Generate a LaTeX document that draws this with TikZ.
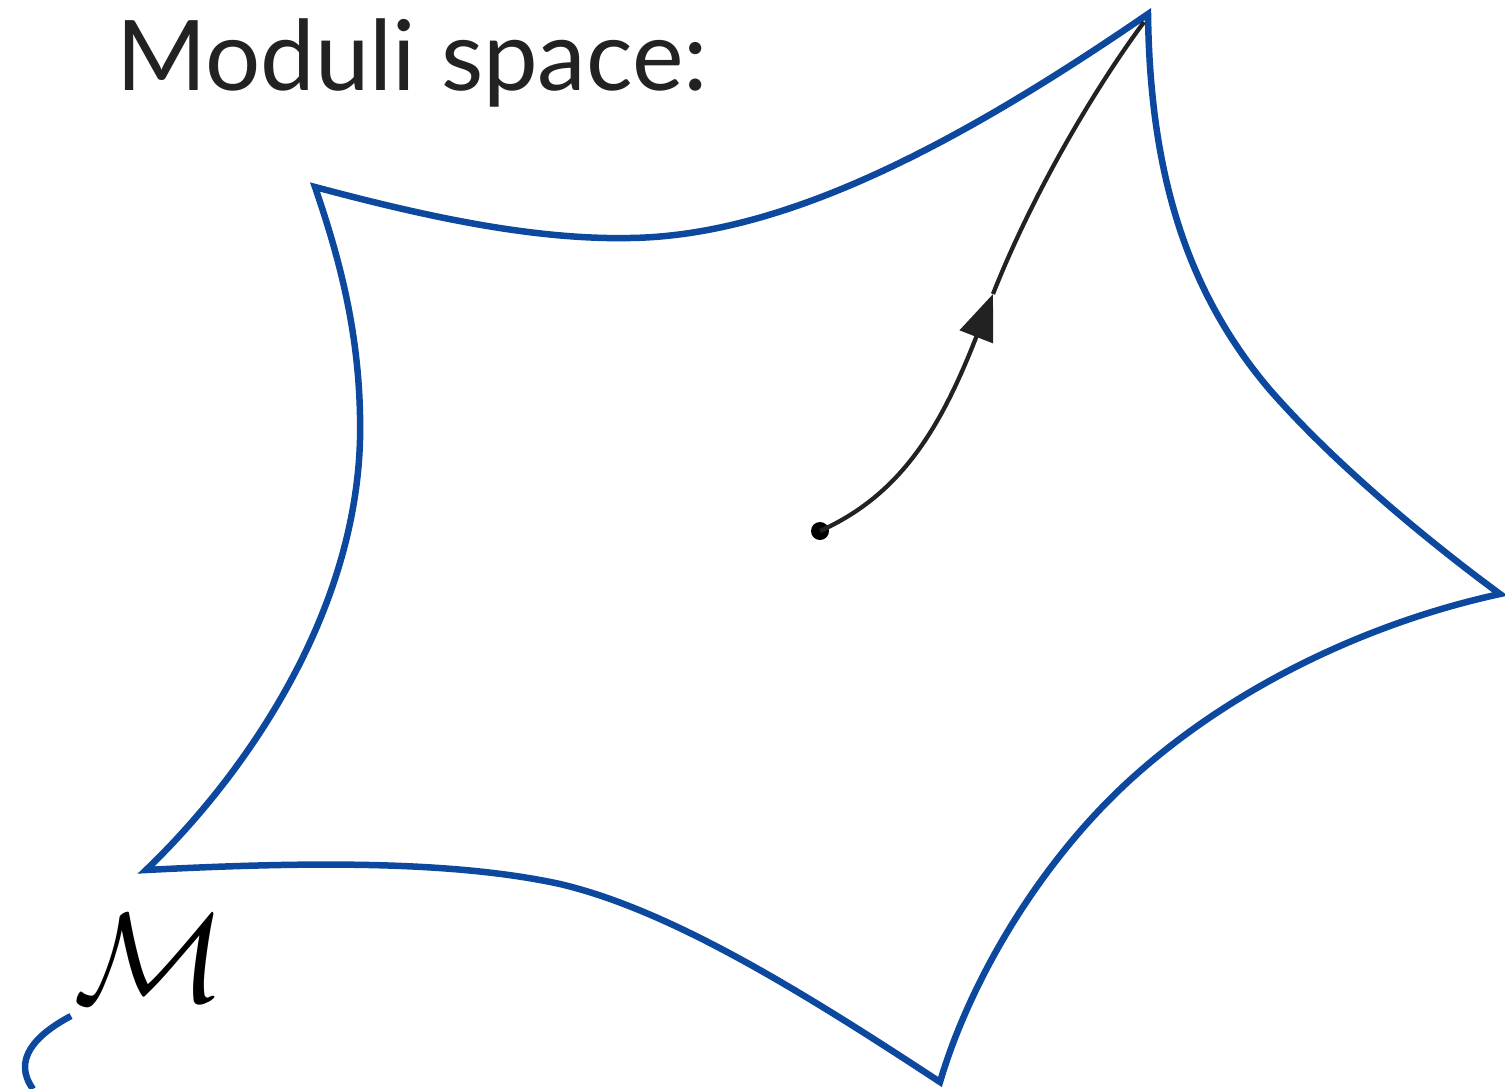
\documentclass[tikz,border=0pt]{standalone}
\usepackage{fontspec}
\setmainfont{Lato}
\usetikzlibrary{arrows.meta}
\definecolor{modblue}{RGB}{12,72,158}
\definecolor{ink}{RGB}{34,34,34}
\begin{document}
\begin{tikzpicture}[x=0.02cm,y=-0.02cm,
  region/.style={draw=modblue,line width=0.13cm,line join=miter,miter limit=20},
  flow/.style={draw=ink,line width=0.085cm},
  title/.style={anchor=base west,inner sep=0pt,text=ink,font=\fontsize{55.5}{62}\selectfont},
  dotnode/.style={circle,fill=black,inner sep=0pt,minimum size=0.36cm}]
\useasboundingbox (0,0) rectangle (1505,1089);
% cusps
\coordinate (A) at (315,187);
\coordinate (B) at (1148,14);
\coordinate (C) at (1500,594);
\coordinate (D) at (940,1082);
\coordinate (E) at (146,870);
\draw[region] (A) .. controls (420,215) and (530,240) .. (630,238)
  .. controls (780,236) and (950,150) .. (B)
  .. controls (1150,170) and (1185,290) .. (1270,390)
  .. controls (1340,470) and (1440,550) .. (C)
  .. controls (1380,620) and (1240,680) .. (1130,780)
  .. controls (1040,862) and (970,980) .. (D)
  .. controls (800,990) and (670,910) .. (560,884)
  .. controls (450,860) and (300,862) .. (E)
  .. controls (240,780) and (355,620) .. (360,440)
  .. controls (362,340) and (340,260) .. cycle;
% title
\node[title] (ttl) at (116,90) {Moduli space:};
% flow arrow
\node[dotnode] (p) at (820,531) {};
\coordinate (tip) at (993,294);
\coordinate (end) at (1144,22);
\draw[flow,-{Triangle[length=0.92cm,width=0.70cm]}] (p.center) .. controls (900,495) and (940,430) .. (tip);
\draw[flow] (tip) .. controls (1030,200) and (1090,95) .. (end);
% label
\node[inner sep=0pt] (mlab) at (150,958) {\scalebox{2.9}{\fontsize{24.88}{30}\selectfont$\mathcal{M}$}};
\coordinate (m1) at (71,1016);
\coordinate (m2) at (33,1089);
\draw[region] (m1) .. controls (35,1035) and (12,1060) .. (m2);
\end{tikzpicture}
\end{document}
